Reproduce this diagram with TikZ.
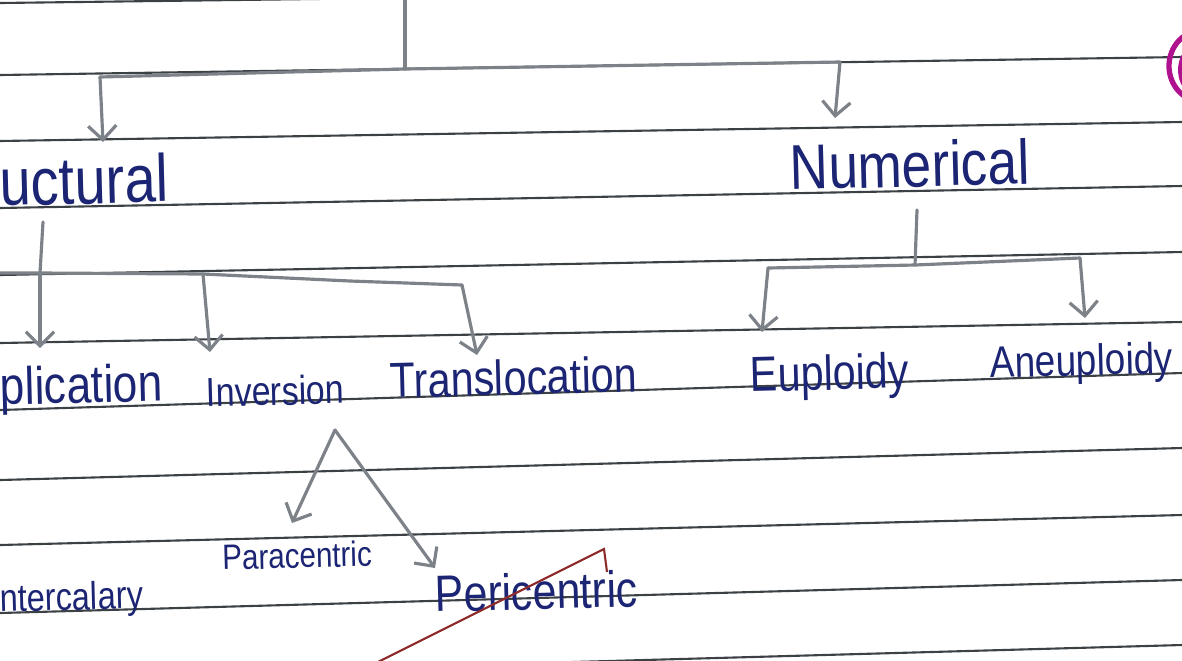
\documentclass[tikz,border=0pt]{standalone}
\usepackage{fontspec}
\newfontfamily\hand[FakeStretch=0.84]{Liberation Sans}
\usetikzlibrary{arrows.meta}
\definecolor{nbInk}   {HTML}{1C2573}
\definecolor{nbPencil}{HTML}{7C8288}
\definecolor{nbRule}  {HTML}{3C4146}
\definecolor{nbRed}   {HTML}{8E2B2B}
\definecolor{nbPink}  {HTML}{B0128F}

\begin{document}
\begin{tikzpicture}[x=0.01cm,y=-0.01cm,
      rule/.style={nbRule,line width=0.6pt},
      pencil/.style={nbPencil,line width=0.9pt,line cap=round,line join=round},
      tip/.style={pencil,-{Straight Barb[length=4pt,width=8pt]}},
      lbl/.style={text=nbInk,inner sep=0pt,anchor=base west,rotate=1.5,
                  font=\hand\fontsize{#1}{#1}\selectfont}]

    \useasboundingbox (0,0) rectangle (1182,660);
    \clip (0,0) rectangle (1182,660);
    \fill[white] (0,0) rectangle (1182,660);

    % ruled lines of the notebook page
    \foreach \l/\r in {3/-12,75/57,141/122,208/186,275/252,343/322,
                       410/373,480/448,545/515,613/580,678/645}
      \draw[rule] (0,\l) -- (1182,\r);

    % margin scribble, top right
    \draw[nbPink,line width=1.5pt] (1203,66) ellipse [x radius=0.34cm,y radius=0.36cm];
    \draw[nbPink,line width=1.1pt] (1208,70) ellipse [x radius=0.28cm,y radius=0.30cm];

    \node[lbl=19]   (struct) at (0,206)   {uctural};
    \node[lbl=18]   (numer)  at (790,190) {Numerical};
    \node[lbl=15]   (dupl)   at (0,405)   {plication};
    \node[lbl=11.5] (inver)  at (206,407) {Inversion};
    \node[lbl=14]   (trans)  at (390,398) {Translocation};
    \node[lbl=14]   (eupl)   at (750,392) {Euploidy};
    \node[lbl=12.5] (aneu)   at (990,378) {Aneuploidy};
    \node[lbl=10]   (para)   at (222,570) {Paracentric};
    \node[lbl=14.5] (peri)   at (435,612) {Pericentric};
    \node[lbl=11]   (inter)  at (0,612)   {ntercalary};

    % top split
    \coordinate (t0) at (405,0);
    \coordinate (t1) at (405,69);
    \coordinate (bL) at (100,77);
    \coordinate (bR) at (840,62);
    \coordinate (aS) at (103,142);
    \coordinate (aN) at (835,118);
    \draw[pencil] (t0) -- (t1);
    \draw[pencil] (bL) -- (t1) -- (bR);
    \draw[tip] (bL) -- (aS);
    \draw[tip] (bR) -- (aN);

    % structural branch
    \coordinate (s0) at (43,222);
    \coordinate (s1) at (40,273);
    \coordinate (sL) at (0,273);
    \coordinate (sI) at (203,274);
    \coordinate (sK) at (350,281);
    \coordinate (sR) at (462,285);
    \draw[pencil] (s0) -- (s1);
    \draw[pencil] (sL) -- (s1) -- (sI) -- (sK) -- (sR);
    \draw[tip] (s1) -- (40,348);
    \draw[tip] (sI) -- (210,352);
    \draw[tip] (sR) -- (477,355);

    % numerical branch
    \coordinate (n0) at (917,210);
    \coordinate (n1) at (915,265);
    \coordinate (nL) at (768,268);
    \coordinate (nR) at (1080,258);
    \draw[pencil] (n0) -- (n1);
    \draw[pencil] (nL) -- (n1) -- (nR);
    \draw[tip] (nL) -- (762,332);
    \draw[tip] (nR) -- (1085,318);

    % inversion split
    \coordinate (v0) at (335,430);
    \draw[tip] (v0) -- (292,523);
    \draw[tip] (v0) -- (435,568);

    % strike through the last word
    \draw[nbRed,line width=0.6pt] (378,662) -- (604,549) -- (607,572);
  \end{tikzpicture}
\end{document}
